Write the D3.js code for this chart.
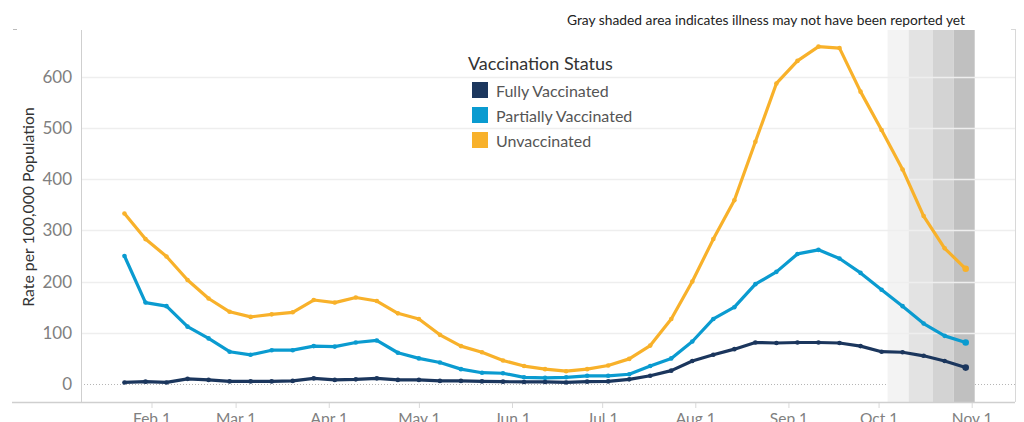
<!DOCTYPE html>
<html>
<head>
  <meta charset="utf-8">
  <script src="https://cdn.jsdelivr.net/npm/d3@7"></script>
  <style>
    body { margin: 0; background: #fff; }
    svg text { font-family: "Lato", "Open Sans", sans-serif; }
  </style>
</head>
<body>
<script type="text/javascript">
  // weekly points (week ending Saturday), Jan 23 .. Oct 30 2021
  var firstWeek = "2021-01-23";
  var weekCount = 41;

  var fullyVaccinated = [3, 4.5, 3, 10, 8, 5, 5, 5, 6, 11, 8, 9, 11, 8, 8, 6, 6, 5, 4.5, 4,
    4, 3, 4.5, 5, 9, 16, 26, 45, 57, 68, 81, 80, 81, 81, 80, 74, 63, 62, 55, 45, 32];
  var partiallyVaccinated = [250, 159, 152, 112, 89, 63, 57, 66, 66, 74, 73, 81, 85, 61, 50, 42, 29, 22, 21, 13,
    12, 13, 16, 16, 19, 35, 50, 83, 127, 150, 195, 219, 254, 262, 245, 217, 184, 152, 118, 94, 81];
  var unvaccinated = [333, 283, 249, 203, 167, 141, 131, 136, 140, 164, 159, 169, 162, 138, 127, 96, 74, 62, 46, 35,
    29, 25, 29, 36, 49, 75, 127, 200, 283, 359, 473, 587, 631, 659, 656, 571, 496, 419, 328, 265, 225];

  var seriesNames = ["Fully Vaccinated", "Partially Vaccinated", "Unvaccinated"];
  var seriesColors = ["#1b365d", "#0a9bd0", "#f8b12a"];

  var yTicks = [0, 100, 200, 300, 400, 500, 600];
  var xTicks = ["2021-02-01", "2021-03-01", "2021-04-01", "2021-05-01", "2021-06-01",
    "2021-07-01", "2021-08-01", "2021-09-01", "2021-10-01", "2021-11-01"];

  // recent weeks, not fully reported yet
  var bandEdges = ["2021-10-04", "2021-10-11", "2021-10-19", "2021-10-26", "2021-11-02"];
  var bandColors = ["#f3f3f3", "#e3e3e3", "#d3d3d3", "#c0c0c0"];

  var noteText = "Gray shaded area indicates illness may not have been reported yet";

  var parse = d3.utcParse("%Y-%m-%d");
  var fmt = d3.utcFormat("%b %-d");

  var W = 1024, H = 422;
  var plotL = 81, plotR = 1015, plotT = 30, plotB = 402;

  var svg = d3.select("body").append("svg")
    .attr("width", W)
    .attr("height", H);

  var x = d3.scaleUtc()
    .domain([parse("2021-02-01"), parse("2021-11-01")])
    .range([151.5, 971.7]);

  var y = d3.scaleLinear()
    .domain([-35.2, 691.4])
    .range([plotB, plotT]);

  var start = parse(firstWeek);
  var weeks = d3.range(weekCount).map(function(i) { return d3.utcDay.offset(start, i * 7); });

  // zero line (dotted), sits under the shading
  svg.append("line")
    .attr("x1", plotL).attr("x2", plotR)
    .attr("y1", Math.round(y(0)) + 0.5).attr("y2", Math.round(y(0)) + 0.5)
    .attr("stroke", "#b5b5b5")
    .attr("stroke-dasharray", "1,2");

  // gray shaded weeks
  svg.append("g").selectAll("rect")
    .data(bandColors)
    .enter().append("rect")
    .attr("x", function(d, i) { return x(parse(bandEdges[i])); })
    .attr("width", function(d, i) { return x(parse(bandEdges[i + 1])) - x(parse(bandEdges[i])); })
    .attr("y", plotT)
    .attr("height", plotB - plotT)
    .attr("fill", function(d) { return d; });

  // gridlines
  svg.append("g").selectAll("line")
    .data(yTicks.filter(function(d) { return d > 0; }))
    .enter().append("line")
    .attr("x1", plotL).attr("x2", plotR)
    .attr("y1", function(d) { return Math.round(y(d)) + 0.5; })
    .attr("y2", function(d) { return Math.round(y(d)) + 0.5; })
    .attr("stroke", "#eeeeee")
    .attr("stroke-width", 1.5);

  // frame
  svg.append("line").attr("x1", plotL + 0.5).attr("x2", plotL + 0.5).attr("y1", plotT).attr("y2", plotB)
    .attr("stroke", "#cfcfcf");
  svg.append("line").attr("x1", 12).attr("x2", plotR).attr("y1", plotB + 0.5).attr("y2", plotB + 0.5)
    .attr("stroke", "#cfcfcf").attr("stroke-width", 1.5);
  svg.append("line").attr("x1", plotR + 0.5).attr("x2", plotR + 0.5).attr("y1", plotT - 1).attr("y2", plotB)
    .attr("stroke", "#d8d8d8");
  svg.append("line").attr("x1", plotR - 4).attr("x2", plotR).attr("y1", plotT - 0.5).attr("y2", plotT - 0.5)
    .attr("stroke", "#d8d8d8");
  svg.append("line").attr("x1", 13).attr("x2", 17).attr("y1", plotT - 0.5).attr("y2", plotT - 0.5)
    .attr("stroke", "#bbbbbb");

  // y axis labels
  var yAxis = d3.axisLeft(y).tickValues(yTicks).tickSize(0).tickPadding(9);
  var gy = svg.append("g")
    .attr("transform", "translate(" + plotL + ",0)")
    .call(yAxis);
  gy.select(".domain").remove();
  gy.selectAll("text")
    .attr("fill", "#808080")
    .style("font-size", "17px")
    .style("font-family", "Lato, sans-serif");

  svg.append("text")
    .attr("transform", "translate(34," + 207 + ") rotate(-90)")
    .attr("text-anchor", "middle")
    .attr("fill", "#333")
    .style("font-size", "15.8px")
    .text("Rate per 100,000 Population");

  // x axis
  var xAxis = d3.axisBottom(x)
    .tickValues(xTicks.map(parse))
    .tickFormat(fmt)
    .tickSize(5)
    .tickPadding(5);
  var gx = svg.append("g")
    .attr("transform", "translate(0," + (plotB + 1) + ")")
    .call(xAxis);
  gx.select(".domain").remove();
  gx.selectAll(".tick line").attr("stroke", "#d9d9d9");
  gx.selectAll("text")
    .attr("fill", "#808080")
    .style("font-size", "15.5px")
    .style("font-family", "Lato, sans-serif");

  // lines
  var allSeries = [fullyVaccinated, partiallyVaccinated, unvaccinated];
  var line = d3.line()
    .x(function(d, i) { return x(weeks[i]); })
    .y(function(d) { return y(d); });

  // draw unvaccinated first so the fully vaccinated line ends on top
  [2, 1, 0].forEach(function(k) {
    var g = svg.append("g");
    g.append("path")
      .datum(allSeries[k])
      .attr("d", line)
      .attr("fill", "none")
      .attr("stroke", seriesColors[k])
      .attr("stroke-width", 3.2)
      .attr("stroke-linejoin", "round");
    g.selectAll("circle")
      .data(allSeries[k])
      .enter().append("circle")
      .attr("cx", function(d, i) { return x(weeks[i]); })
      .attr("cy", function(d) { return y(d); })
      .attr("r", function(d, i) { return i === weekCount - 1 ? 3.3 : 2.3; })
      .attr("fill", seriesColors[k]);
  });

  // legend
  var legend = svg.append("g").attr("transform", "translate(468,0)");
  legend.append("text")
    .attr("x", 0).attr("y", 70)
    .attr("fill", "#333")
    .style("font-size", "18px")
    .text("Vaccination Status");
  var rows = legend.selectAll("g.row")
    .data(seriesNames)
    .enter().append("g")
    .attr("class", "row")
    .attr("transform", function(d, i) { return "translate(0," + (82 + i * 25) + ")"; });
  rows.append("rect")
    .attr("x", 4).attr("y", 0)
    .attr("width", 16).attr("height", 16)
    .attr("fill", function(d, i) { return seriesColors[i]; });
  rows.append("text")
    .attr("x", 28).attr("y", 15)
    .attr("fill", "#555")
    .style("font-size", "16px")
    .text(function(d) { return d; });

  // note
  svg.append("text")
    .attr("x", 965).attr("y", 25)
    .attr("text-anchor", "end")
    .attr("fill", "#222")
    .style("font-size", "13.8px")
    .text(noteText);
</script>
</body>
</html>
